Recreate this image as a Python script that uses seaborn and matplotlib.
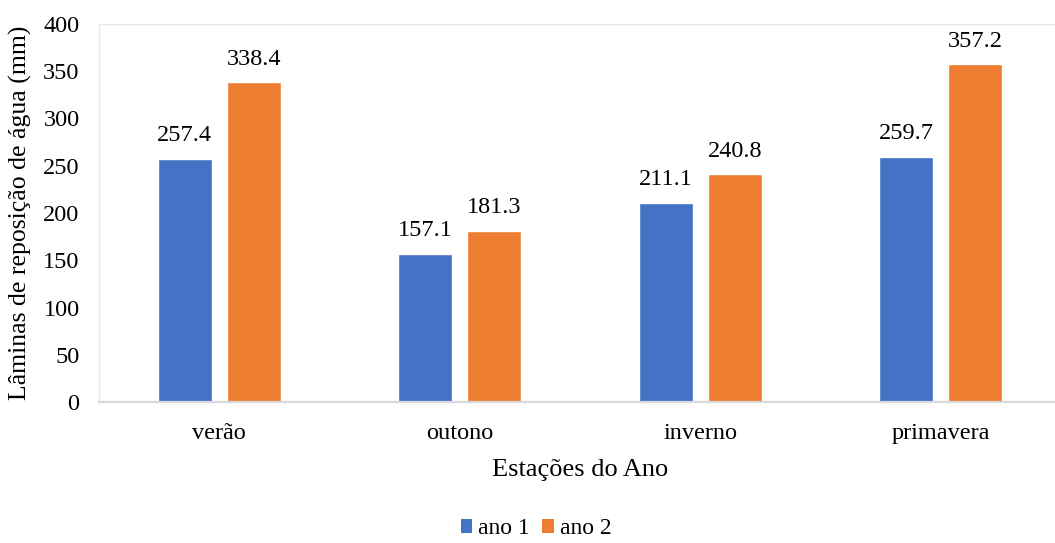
import matplotlib
matplotlib.use("Agg")
import matplotlib.pyplot as plt
import seaborn as sns
import pandas as pd
from matplotlib.patches import Patch

estacoes = ["verão", "outono", "inverno", "primavera"]
ano1 = [257.4, 157.1, 211.1, 259.7]
ano2 = [338.4, 181.3, 240.8, 357.2]
series = ["ano 1", "ano 2"]
cores = ["#4472C4", "#ED7D31"]
y_ticks = [0, 50, 100, 150, 200, 250, 300, 350, 400]

df = pd.DataFrame({
    "estacao": estacoes * 2,
    "valor": ano1 + ano2,
    "serie": [series[0]] * len(estacoes) + [series[1]] * len(estacoes),
})

sns.set_theme(style="white")
plt.rcParams["font.family"] = ["Liberation Serif", "DejaVu Serif"]
plt.rcParams["text.color"] = "#000000"

fig = plt.figure(figsize=(10.55, 5.43), dpi=100)
ax = fig.add_axes([99 / 1055, 1 - 402 / 543, 962 / 1055, 378 / 543])

sns.barplot(data=df, x="estacao", y="valor", hue="serie", order=estacoes,
            hue_order=series, palette=cores, width=0.575, gap=0.217,
            saturation=1, ax=ax, legend=False)

for cont in ax.containers:
    ax.bar_label(cont, labels=[f"{v:.1f}" for v in cont.datavalues],
                 padding=9, fontsize=17.5, color="#000000")

ax.set_ylim(0, 400)
ax.set_xlim(-0.5, 3.5)
ax.set_yticks(y_ticks)
ax.set_yticklabels([str(t) for t in y_ticks])
ax.tick_params(axis="y", length=0, labelsize=17.5, pad=14, labelcolor="#000000")
ax.tick_params(axis="x", which="major", length=0, labelsize=17.5, pad=15, labelcolor="#000000")
ax.set_xticks([-0.5, 0.5, 1.5, 2.5], minor=True)
ax.tick_params(axis="x", which="minor", length=6, width=1.2, color="#d9d9d9")

ax.set_xlabel("Estações do Ano", fontsize=19, labelpad=11, color="#000000")
ax.set_ylabel("Lâminas de reposição de água (mm)", fontsize=18.5, labelpad=8, color="#000000")

for side in ["left", "top", "right"]:
    ax.spines[side].set_color("#e8e8e8")
    ax.spines[side].set_linewidth(1.0)
ax.spines["bottom"].set_color("#d9d9d9")
ax.spines["bottom"].set_linewidth(1.6)

handles = [Patch(facecolor=c, edgecolor="none", label=s) for c, s in zip(cores, series)]
fig.legend(handles=handles, loc="lower center", bbox_to_anchor=(0.508, 0.0), ncol=2,
           frameon=False, fontsize=17, handlelength=0.5, handleheight=0.5,
           handletextpad=0.25, columnspacing=0.5, borderpad=0.05, borderaxespad=0.1)

fig.savefig("out.png", dpi=100)
